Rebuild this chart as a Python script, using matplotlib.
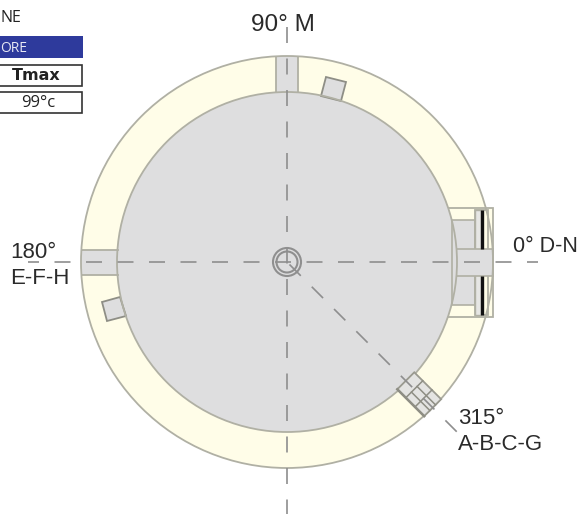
import numpy as np
import matplotlib
matplotlib.use("Agg")
import matplotlib.pyplot as plt
from matplotlib.patches import Circle, Rectangle, Polygon

W, H = 577, 514
CX, CY = 287, 262
R_OUT, R_IN = 206, 170
HUB_RADII = [14, 10.5]

CREAM = "#FFFDE8"; GREY = "#DEDEDF"; EDGE = "#B0B0A4"; DASH = "#8E8E8E"; TXT = "#2A2A2A"

table_title = "NE"
table_header = "ORE"
table_col = "Tmax"
table_val = "99°c"

# Direction labels: text, x, y, size
dir_labels = [("90° M", 251, 25, 17.5), ("0° D-N", 513, 247, 15.5),
              ("180°", 10, 253, 16), ("E-F-H", 10, 278, 16),
              ("315°", 458, 418, 16), ("A-B-C-G", 458, 444, 16)]

# Sensor blocks (pixel corners)
block_top = [(326, 77), (346, 82), (341, 101), (321, 96)]
block_left = [(102, 302), (120, 297), (126, 316), (107, 321)]

fig = plt.figure(figsize=(W / 100, H / 100), dpi=100, facecolor="white")
ax = fig.add_axes([0, 0, 1, 1])
ax.set_xlim(0, W); ax.set_ylim(H, 0); ax.axis("off")

ax.add_patch(Circle((CX, CY), R_OUT, fc=CREAM, ec="none", zorder=1))

# East door casing goes under the inner disc
ax.add_patch(Rectangle((446, 208), 47, 109, fc=CREAM, ec=EDGE, lw=1.3, zorder=1.5))
ax.add_patch(Circle((CX, CY), R_IN, fc=GREY, ec="none", zorder=2))

def box(x0, y0, x1, y1, fc=GREY, ec=EDGE, lw=1.3, z=3):
    ax.add_patch(Rectangle((x0, y0), x1 - x0, y1 - y0, fc=fc, ec=ec, lw=lw, zorder=z))

# North / West channels
ax.add_patch(Rectangle((276, 56), 22, 37, fc=GREY, ec="none", zorder=2.2))
ax.plot([276, 276], [57, 92], color=EDGE, lw=1.3, zorder=2.3)
ax.plot([298, 298], [57, 92], color=EDGE, lw=1.3, zorder=2.3)
ax.add_patch(Rectangle((81, 250), 37, 25, fc=GREY, ec="none", zorder=2.2))
ax.plot([82, 118], [250, 250], color=EDGE, lw=1.3, zorder=2.3)
ax.plot([82, 118], [275, 275], color=EDGE, lw=1.3, zorder=2.3)

# Sensor blocks
ax.add_patch(Polygon(block_top, fc=GREY, ec="#8E8E86", lw=1.3, zorder=2.4))
ax.add_patch(Polygon(block_left, fc=GREY, ec="#8E8E86", lw=1.3, zorder=2.4))

# East door
ax.add_patch(Rectangle((452, 220), 23, 85, fc=GREY, ec=EDGE, lw=1.2, zorder=2.2))
box(475, 210, 488, 315, fc=CREAM, z=2.5)
ax.add_patch(Rectangle((475, 210), 6, 105, fc="#E6E6E4", ec=EDGE, lw=1, zorder=2.6))
box(457, 249, 493, 276, fc=GREY, ec="none", z=2.7)
ax.plot([457, 493], [249, 249], color=EDGE, lw=1.2, zorder=2.8)
ax.plot([457, 493], [276, 276], color=EDGE, lw=1.2, zorder=2.8)
ax.plot([493, 493], [249, 276], color=EDGE, lw=1.2, zorder=2.8)
ax.plot([482, 482], [210, 249], color="#111111", lw=2.4, zorder=3, solid_capstyle="butt")
ax.plot([482, 482], [276, 315], color="#111111", lw=2.4, zorder=3, solid_capstyle="butt")

# Circle outlines above the channels
ax.add_patch(Circle((CX, CY), R_OUT, fc="none", ec=EDGE, lw=1.3, zorder=3.2))
ax.add_patch(Circle((CX, CY), R_IN, fc="none", ec=EDGE, lw=1.3, zorder=3.2))

# South-east door, drawn in rotated local coords
u = np.array([np.cos(np.pi / 4), np.sin(np.pi / 4)])
v = np.array([-u[1], u[0]])
c = np.array([CX, CY])
def pt(r, s):
    return tuple(c + r * u + s * v)
ax.add_patch(Polygon([pt(168, -12), pt(206, -12), pt(206, 12), pt(168, 12)],
                     fc="#E4E4E2", ec="#9A9A90", lw=1.3, zorder=3.3))
for r in (180, 193):
    ax.plot(*zip(pt(r, -12), pt(r, 12)), color="#8E8E84", lw=1.1, zorder=4)
for s in (-4, 4):
    ax.plot(*zip(pt(180, s), pt(206, s)), color="#8E8E84", lw=1.1, zorder=4)
ax.plot(*zip(pt(168, 12), pt(206, 12)), color="#8E8E84", lw=1.8, zorder=4)

# Dashed axes: dash 16 px, gap 15.5 px; dash units are line widths
LW = 1.2
px = 72 / 100 / LW   # pixels -> dash units
pattern = (16 * px, 15.5 * px)
ax.plot([287, 287], [27, 514], color=DASH, lw=LW, dashes=pattern, dash_capstyle="butt", zorder=5)
ax.plot([538, 28], [262, 262], color=DASH, lw=LW, dash_capstyle="butt", zorder=5,
        linestyle=(5 * px, pattern))
ax.plot(*zip(pt(3.5, 0), pt(240, 0)), color=DASH, lw=LW, dashes=pattern, dash_capstyle="butt", zorder=5)

# Hub
for r in HUB_RADII:
    ax.add_patch(Circle((CX, CY), r, fc="none", ec="#8F8F8F", lw=1.5, zorder=6))

# Labels
for s, x, y, fs in dir_labels:
    ax.text(x, y, s, fontsize=fs, family="Liberation Sans", color=TXT, ha="left", va="center", zorder=7)

# Cropped table
ax.text(0.5, 18, table_title, fontsize=11.5, family="Open Sans", color="#222222", ha="left", va="center")
ax.add_patch(Rectangle((-2, 36), 85, 22, fc="#2E3A9C", ec="none"))
ax.text(0.5, 48, table_header, fontsize=10, family="Open Sans", color="#E8E8F4", ha="left", va="center")
box(-2, 65, 82, 86, fc="white", ec="#333333", lw=1.2, z=3)
ax.text(36, 76, table_col, fontsize=11.5, family="DejaVu Sans", weight="bold", color="#222222", ha="center", va="center", zorder=7)
box(-2, 92, 82, 113, fc="white", ec="#333333", lw=1.2, z=3)
ax.text(38.5, 103, table_val, fontsize=12, family="Open Sans", color="#222222", ha="center", va="center", zorder=7)

fig.savefig("out.png", dpi=100, facecolor="white")
